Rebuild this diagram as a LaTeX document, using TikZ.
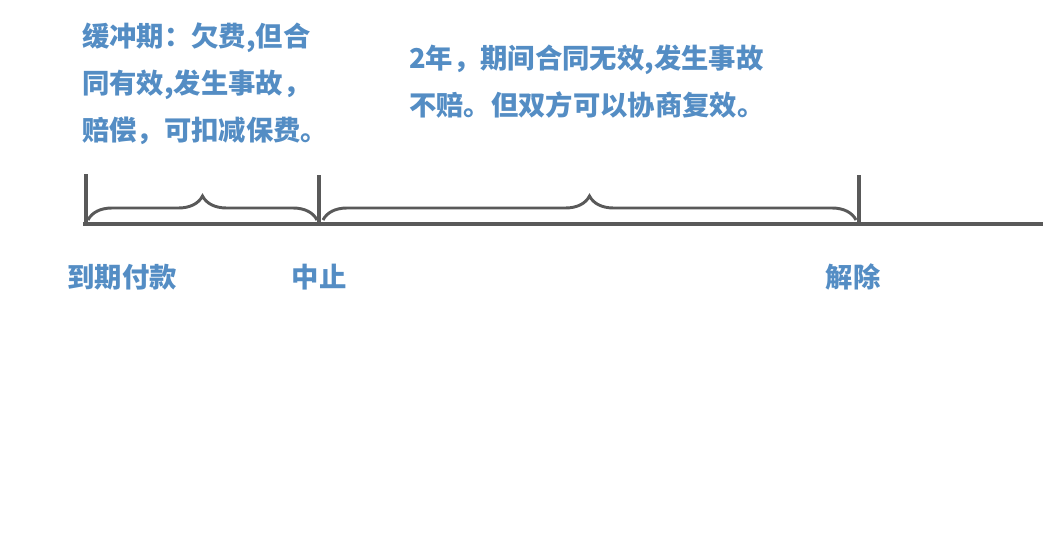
\documentclass[tikz,border=0pt]{standalone}
\usepackage{fontspec}
\newfontfamily\cjk{Noto Sans CJK SC}
\usetikzlibrary{decorations.pathreplacing}
\definecolor{txtblue}{RGB}{84,141,196}
\definecolor{linegray}{RGB}{89,89,89}
\tikzset{
  lbl/.style={font=\cjk\bfseries\fontsize{20.5pt}{35pt}\selectfont, text=txtblue, inner sep=0pt},
  para/.style={lbl, align=left, anchor=north west},
  axis/.style={draw=linegray, line width=2.4pt},
  brc/.style={draw=linegray, line width=2.2pt, decorate, decoration={brace, amplitude=18pt}}
}
\begin{document}
\begin{tikzpicture}[x=0.75pt,y=-0.75pt]
\useasboundingbox (0,0) rectangle (1052,548);
\coordinate (L) at (83,224);
\coordinate (R) at (1043,224);
\coordinate (t1b) at (86,224);
\coordinate (t1t) at (86,174);
\coordinate (t2b) at (319,224);
\coordinate (t2t) at (319,175);
\coordinate (t3b) at (859,224);
\coordinate (t3t) at (859,175);
\coordinate (b1s) at (88,220);
\coordinate (b1e) at (317,220);
\coordinate (b2s) at (323,220);
\coordinate (b2e) at (856,220);
\draw[axis] (L) -- (R);
\draw[axis] (t1b) -- (t1t);
\draw[axis] (t2b) -- (t2t);
\draw[axis] (t3b) -- (t3t);
\draw[brc] (b1s) -- (b1e);
\draw[brc] (b2s) -- (b2e);
\node[para] (txt1) at (82,23) {缓冲期：欠费,但合\\同有效,发生事故，\\赔偿，可扣减保费。};
\node[para] (txt2) at (409,45) {2年，期间合同无效,发生事故\\不赔。但双方可以协商复效。};
\node[lbl] (d1) at (122,277) {到期付款};
\node[lbl] (d2) at (319,277) {中止};
\node[lbl] (d3) at (853,277) {解除};
\end{tikzpicture}
\end{document}
